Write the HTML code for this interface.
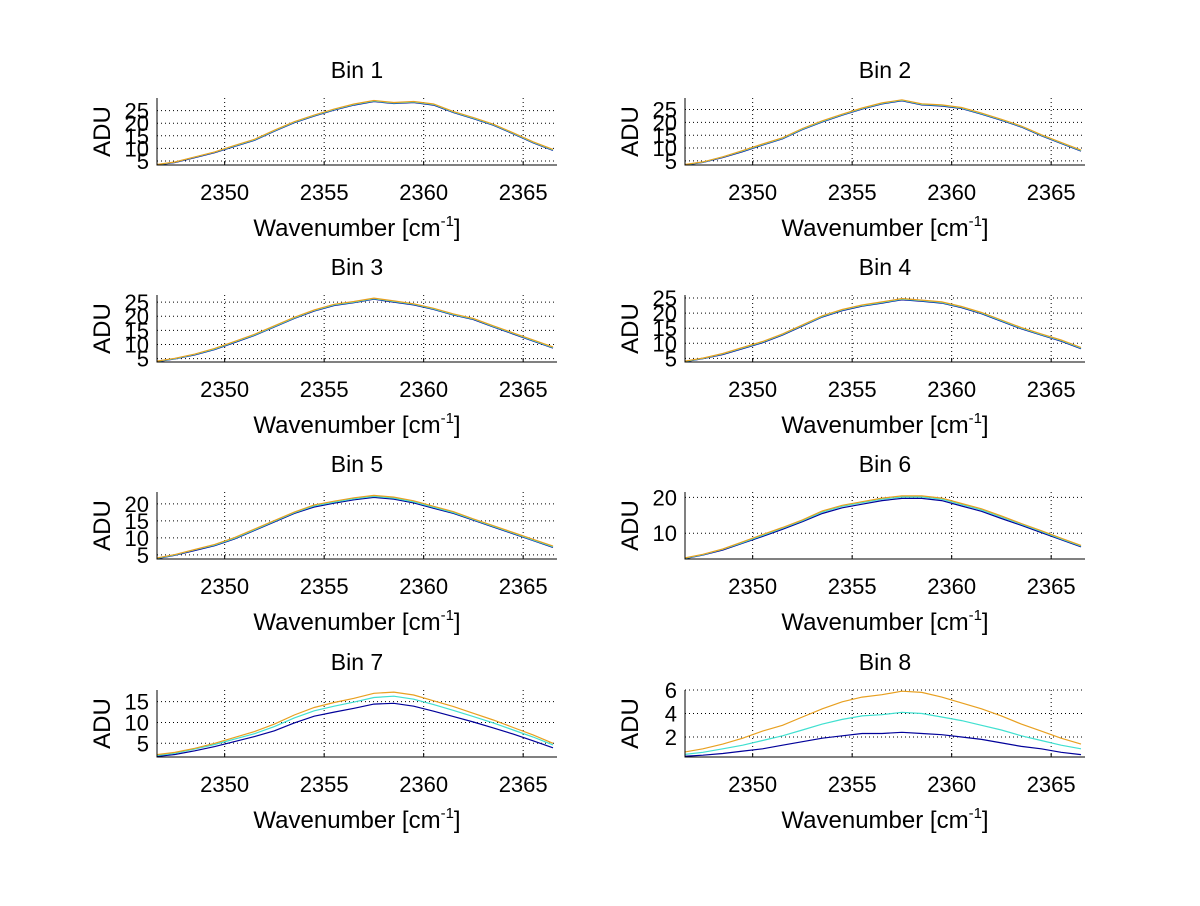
<!DOCTYPE html>
<html><head><meta charset="utf-8"><style>
body{margin:0;background:#fff;}
svg text{font-family:"Liberation Sans",sans-serif;fill:#000;}
</style></head><body>
<svg id="fig" width="1200" height="901" viewBox="0 0 1200 901" xmlns="http://www.w3.org/2000/svg">
<rect width="1200" height="901" fill="#fff"/>
</svg>
<script>
const xGrid = [2346.5,2347.5,2348.5,2349.5,2350.5,2351.5,2352.5,2353.5,2354.5,2355.5,2356.5,2357.5,2358.5,2359.5,2360.5,2361.5,2362.5,2363.5,2364.5,2365.5,2366.5];
const xTicks = [2350,2355,2360,2365];
const xLim = [2346.6,2366.7];
const binTitles = ["Bin 1","Bin 2","Bin 3","Bin 4","Bin 5","Bin 6","Bin 7","Bin 8"];
const yLims = [[3.4,30.0],[3.4,29.5],[3.8,27.5],[3.8,26.0],[3.8,23.5],[2.8,21.5],[1.7,17.8],[0.3,6.0]];
const yTicks = [[5,10,15,20,25],[5,10,15,20,25],[5,10,15,20,25],[5,10,15,20,25],[5,10,15,20],[10,20],[5,10,15],[2,4,6]];
const orange1 = [3.5,4.6,6.6,8.6,11.2,13.6,17.2,20.6,23.2,25.6,27.6,29.0,28.2,28.6,27.6,24.6,22.2,19.6,16.2,12.6,9.6];
const cyan1   = [3.4,4.5,6.5,8.5,11.0,13.4,17.0,20.4,23.0,25.4,27.4,28.8,28.0,28.4,27.4,24.4,22.0,19.4,16.0,12.4,9.4];
const blue1   = [3.3,4.4,6.3,8.3,10.8,13.2,16.8,20.2,22.8,25.2,27.2,28.6,27.8,28.2,27.2,24.2,21.8,19.2,15.8,12.2,9.2];
const orange2 = [3.5,4.6,6.6,9.0,11.6,14.0,17.6,20.6,23.2,25.6,27.6,28.8,27.2,26.8,25.8,23.6,21.2,18.6,15.2,12.2,9.2];
const cyan2   = [3.4,4.5,6.5,8.8,11.4,13.8,17.4,20.4,23.0,25.4,27.4,28.6,27.0,26.6,25.6,23.4,21.0,18.4,15.0,12.0,9.0];
const blue2   = [3.3,4.4,6.3,8.6,11.2,13.6,17.2,20.2,22.8,25.2,27.2,28.4,26.8,26.4,25.4,23.2,20.8,18.2,14.8,11.8,8.8];
const orange3 = [4.0,5.1,6.6,8.6,11.1,13.6,16.6,19.6,22.2,24.2,25.2,26.4,25.4,24.4,22.8,20.8,19.2,16.6,14.1,11.6,9.1];
const cyan3   = [3.9,5.0,6.5,8.4,10.9,13.4,16.4,19.4,22.0,24.0,25.0,26.2,25.2,24.2,22.6,20.6,19.0,16.4,13.9,11.4,8.9];
const blue3   = [3.8,4.9,6.3,8.2,10.7,13.2,16.2,19.2,21.8,23.8,24.8,26.0,25.0,24.0,22.4,20.4,18.8,16.2,13.7,11.2,8.7];
const orange4 = [4.0,5.1,6.6,8.6,10.6,13.1,16.1,19.1,21.2,22.7,23.7,24.8,24.3,23.7,22.2,20.2,17.7,15.2,13.1,11.1,8.6];
const cyan4   = [3.9,5.0,6.5,8.4,10.4,12.9,15.9,18.9,21.0,22.5,23.5,24.6,24.1,23.5,22.0,20.0,17.5,15.0,12.9,10.9,8.4];
const blue4   = [3.8,4.9,6.3,8.2,10.2,12.7,15.7,18.7,20.8,22.3,23.3,24.4,23.9,23.3,21.8,19.8,17.3,14.8,12.7,10.7,8.2];
const orange5 = [4.0,5.1,6.6,8.1,10.1,12.6,15.1,17.6,19.7,20.8,21.8,22.5,22.0,20.9,19.3,17.7,15.6,13.6,11.6,9.6,7.6];
const cyan5   = [3.9,5.0,6.5,7.9,9.9,12.4,14.9,17.4,19.4,20.5,21.5,22.2,21.7,20.6,19.0,17.4,15.4,13.4,11.4,9.4,7.4];
const blue5   = [3.8,4.9,6.3,7.7,9.7,12.2,14.7,17.2,19.1,20.2,21.2,21.9,21.4,20.3,18.7,17.2,15.2,13.2,11.2,9.2,7.2];
const orange6 = [3.0,4.1,5.6,7.6,9.6,11.6,13.7,16.2,17.8,18.8,19.8,20.4,20.4,19.8,18.3,16.8,14.8,12.7,10.7,8.6,6.6];
const cyan6   = [2.9,4.0,5.5,7.4,9.4,11.4,13.5,15.9,17.5,18.5,19.5,20.1,20.1,19.5,18.0,16.5,14.5,12.5,10.5,8.4,6.4];
const blue6   = [2.8,3.9,5.3,7.2,9.1,11.1,13.2,15.5,17.1,18.1,19.1,19.7,19.7,19.1,17.6,16.1,14.1,12.2,10.2,8.2,6.2];
const orange7 = [2.2,2.8,3.8,5.0,6.4,7.8,9.6,11.8,13.6,14.8,15.8,17.0,17.3,16.6,15.2,13.8,12.2,10.6,8.8,7.0,5.0];
const cyan7   = [2.0,2.6,3.6,4.7,6.0,7.3,9.0,11.1,12.8,13.9,14.9,16.0,16.3,15.6,14.3,12.9,11.4,9.9,8.2,6.5,4.6];
const blue7   = [1.8,2.3,3.2,4.2,5.4,6.6,8.0,9.9,11.5,12.5,13.4,14.4,14.6,13.9,12.7,11.4,10.1,8.7,7.2,5.6,3.9];
const orange8 = [0.7,1.0,1.4,1.9,2.5,3.0,3.7,4.4,5.0,5.4,5.6,5.9,5.8,5.4,4.9,4.4,3.8,3.1,2.5,1.9,1.4];
const cyan8   = [0.5,0.7,1.0,1.3,1.7,2.1,2.6,3.1,3.5,3.8,3.9,4.1,4.0,3.7,3.4,3.0,2.6,2.1,1.7,1.3,1.0];
const blue8   = [0.35,0.45,0.6,0.8,1.0,1.3,1.6,1.9,2.1,2.3,2.3,2.4,2.3,2.2,2.0,1.8,1.5,1.2,1.0,0.7,0.5];
const seriesByBin = [[blue1,cyan1,orange1],[blue2,cyan2,orange2],[blue3,cyan3,orange3],[blue4,cyan4,orange4],[blue5,cyan5,orange5],[blue6,cyan6,orange6],[blue7,cyan7,orange7],[blue8,cyan8,orange8]];
const seriesNames = ["blue","cyan","orange"];

const colors = ["#00009a","#40e0d0","#e8a020"];
const NS = "http://www.w3.org/2000/svg";
const svg = document.getElementById('fig');
function mk(tag, attrs, parent){const e=document.createElementNS(NS,tag);for(const k in attrs)e.setAttribute(k,attrs[k]);(parent||svg).appendChild(e);return e;}
const colX = [157,685], W = 400, rowTop = [98,295,492,690], H = 67;

for(let b=0;b<8;b++){
  const L = colX[b%2], T = rowTop[Math.floor(b/2)];
  const g = mk('g',{});
  
  
  const xs = v => L + (v-xLim[0])/(xLim[1]-xLim[0])*W;
  const yl = yLims[b];
  const ys = v => T + H - (v-yl[0])/(yl[1]-yl[0])*H;
  const clipId='clip'+b;
  const cp = mk('clipPath',{id:clipId},g); mk('rect',{x:L,y:T,width:W,height:H},cp);
  xTicks.forEach(t=>{
    const l=mk('line',{x1:xs(t),x2:xs(t),y1:T,y2:T+H,stroke:'#000','stroke-width':1,'stroke-dasharray':'1,3'},g);
    
    
    const tk=mk('line',{x1:xs(t),x2:xs(t),y1:T+H,y2:T+H-4,stroke:'#000'},g);
    
    
    const tx=mk('text',{x:xs(t),y:T+H+35,'font-size':22,'text-anchor':'middle'},g); tx.textContent=t;
    
    
  });
  yTicks[b].forEach(t=>{
    const l=mk('line',{x1:L,x2:L+W,y1:ys(t),y2:ys(t),stroke:'#000','stroke-width':1,'stroke-dasharray':'1,3'},g);
    
    
    const tx=mk('text',{x:L-8,y:ys(t)+8,'font-size':22,'text-anchor':'end'},g); tx.textContent=t;
    
    
  });
  seriesByBin[b].forEach((arr,si)=>{
    const d = arr.map((v,i)=>(i?'L':'M')+xs(xGrid[i]).toFixed(1)+','+ys(v).toFixed(1)).join(' ');
    const p=mk('path',{d:d,fill:'none',stroke:colors[si],'stroke-width':1.2,'clip-path':'url(#'+clipId+')'},g);
    
    
  });
  const ax=mk('path',{d:`M${L},${T} L${L},${T+H} L${L+W},${T+H}`,fill:'none',stroke:'#000','stroke-width':1},g);
  
  
  const ti=mk('text',{x:L+W/2,y:T-20,'font-size':23,'text-anchor':'middle'},g); ti.textContent=binTitles[b];
  
  
  const xl=mk('text',{x:L+W/2,y:T+H+71,'font-size':24,'text-anchor':'middle'},g);
  xl.innerHTML='Wavenumber [cm<tspan dy="-10" font-size="15">-1</tspan><tspan dy="10">]</tspan>';
  
  
  const yt=mk('text',{x:0,y:0,'font-size':24,'text-anchor':'middle',transform:`translate(${L-47},${T+H/2}) rotate(-90)`},g); yt.textContent='ADU';
  
  
}
</script>
</body></html>
